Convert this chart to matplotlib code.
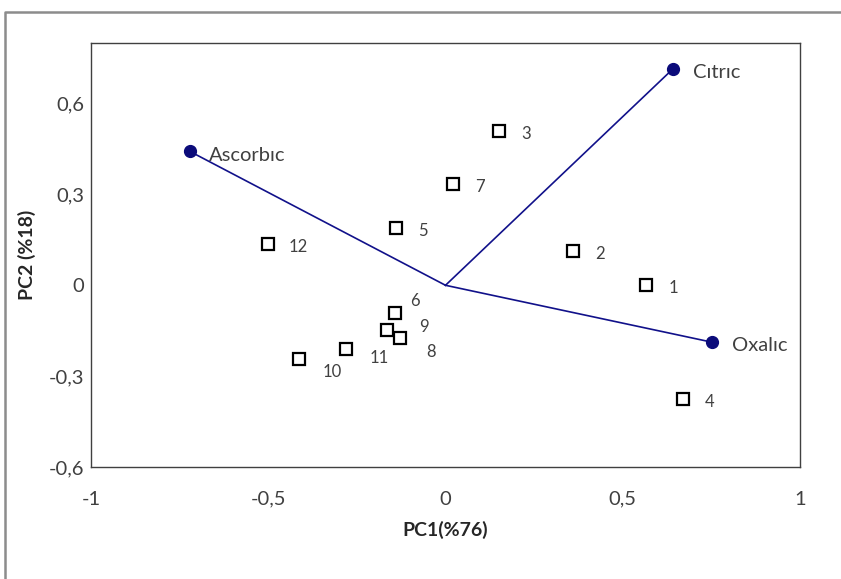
import matplotlib
matplotlib.use("Agg")
import matplotlib.pyplot as plt
from matplotlib.ticker import FuncFormatter, FixedLocator
from matplotlib.lines import Line2D

plt.rcParams['font.family'] = ['Lato', 'DejaVu Sans']

# Sample scores (squares)
sample_ids = ["1", "2", "3", "4", "5", "6", "7", "8", "9", "10", "11", "12"]
sample_pc1 = [0.566, 0.360, 0.151, 0.670, -0.140, -0.142, 0.021, -0.128, -0.165, -0.413, -0.281, -0.501]
sample_pc2 = [0.000, 0.112, 0.508, -0.376, 0.188, -0.092, 0.333, -0.175, -0.148, -0.244, -0.211, 0.135]

# Variable loadings (vectors)
var_names = ["Ascorbıc", "Cıtrıc", "Oxalıc"]
var_pc1 = [-0.721, 0.642, 0.752]
var_pc2 = [0.442, 0.715, -0.188]

x_ticks = [-1, -0.5, 0, 0.5, 1]
y_ticks = [-0.6, -0.3, 0, 0.3, 0.6]

# label offsets (points) for sample labels
label_off = {"6": (11, 10), "9": (23, 3), "8": (19, -9), "10": (17, -8),
             "11": (17, -5), "12": (15, -1)}

fig = plt.figure(figsize=(8.41, 5.79), dpi=100)
ax = fig.add_axes([91/841, 112/579, 709/841, 424/579])

navy = "#11118a"
for name, x, y in zip(var_names, var_pc1, var_pc2):
    ax.plot([0, x], [0, y], color=navy, lw=1.2, zorder=2)
    ax.plot([x], [y], marker='o', ms=8.5, color="#0b0b7a", zorder=4)
    ax.annotate(name, (x, y), xytext=(14, -1.5), textcoords='offset points',
                ha='left', va='center_baseline', fontsize=14.5, color="#404040")

ax.plot(sample_pc1, sample_pc2, linestyle='none', marker='s', ms=8,
        mfc='white', mec='black', mew=1.6, zorder=5)
for sid, x, y in zip(sample_ids, sample_pc1, sample_pc2):
    dx, dy = label_off.get(sid, (16, -1))
    ax.annotate(sid, (x, y), xytext=(dx, dy), textcoords='offset points',
                ha='left', va='center_baseline', fontsize=12, color="#404040")

ax.set_xlim(-1, 1)
ax.set_ylim(-0.6, 0.8)
ax.xaxis.set_major_locator(FixedLocator(x_ticks))
ax.yaxis.set_major_locator(FixedLocator(y_ticks))

def fmt(v, pos):
    if abs(v) < 1e-9:
        return "0"
    s = ("%g" % round(v, 2)).replace(".", ",")
    return s

ax.xaxis.set_major_formatter(FuncFormatter(fmt))
ax.yaxis.set_major_formatter(FuncFormatter(fmt))
ax.tick_params(axis='both', length=0, labelsize=14.5, labelcolor="#404040")
ax.tick_params(axis='x', pad=17)
ax.tick_params(axis='y', pad=5)
for sp in ax.spines.values():
    sp.set_color("#404040")
    sp.set_linewidth(1.0)

fig.text(445/841, 1 - 530/579, "PC1(%76)", ha='center', va='center',
         fontsize=14, fontweight='bold', color="#262626")
fig.text(27/841, 1 - 255/579, "PC2 (%18)", ha='center', va='center',
         rotation=90, fontsize=14, fontweight='bold', color="#262626")

# outer chart-area frame (top and left visible)
fig.add_artist(Line2D([5/841, 5/841, 1.0], [0.0, 1 - 12/579, 1 - 12/579],
                      transform=fig.transFigure, color="#8c8c8c", lw=1.8))

fig.savefig("out.png", dpi=100)
